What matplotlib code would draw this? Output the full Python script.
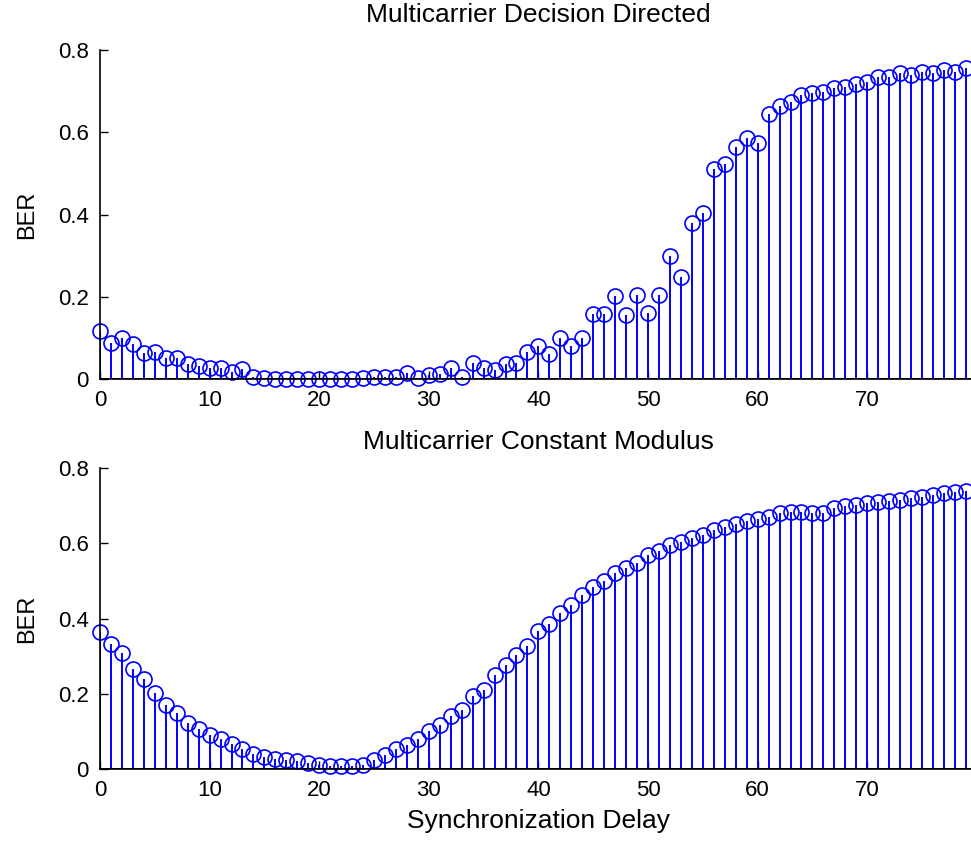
import numpy as np
import matplotlib
matplotlib.use("Agg")
import matplotlib.pyplot as plt

# synchronization delay (samples)
delay = np.arange(80)

ber_decision_directed = [
    0.118, 0.088, 0.100, 0.085, 0.064, 0.065, 0.052, 0.052, 0.036, 0.031,
    0.028, 0.028, 0.016, 0.025, 0.006, 0.003, 0.000, 0.000, 0.000, 0.000,
    0.000, 0.000, 0.000, 0.000, 0.002, 0.005, 0.006, 0.006, 0.014, 0.002,
    0.010, 0.012, 0.026, 0.006, 0.038, 0.026, 0.022, 0.036, 0.038, 0.066,
    0.081, 0.061, 0.100, 0.081, 0.100, 0.158, 0.158, 0.203, 0.156, 0.205,
    0.160, 0.205, 0.300, 0.248, 0.380, 0.405, 0.512, 0.524, 0.564, 0.586,
    0.575, 0.646, 0.664, 0.675, 0.691, 0.695, 0.699, 0.707, 0.711, 0.719,
    0.723, 0.736, 0.736, 0.744, 0.740, 0.748, 0.744, 0.752, 0.748, 0.756,
]

ber_constant_modulus = [
    0.363, 0.333, 0.308, 0.266, 0.240, 0.201, 0.171, 0.150, 0.123, 0.107,
    0.090, 0.080, 0.066, 0.052, 0.040, 0.032, 0.027, 0.024, 0.020, 0.016,
    0.010, 0.008, 0.008, 0.008, 0.010, 0.024, 0.038, 0.052, 0.063, 0.080,
    0.102, 0.118, 0.142, 0.158, 0.193, 0.211, 0.251, 0.277, 0.304, 0.326,
    0.366, 0.386, 0.415, 0.437, 0.463, 0.485, 0.499, 0.521, 0.534, 0.547,
    0.568, 0.580, 0.596, 0.603, 0.613, 0.622, 0.636, 0.644, 0.651, 0.658,
    0.664, 0.671, 0.680, 0.684, 0.682, 0.680, 0.680, 0.695, 0.698, 0.702,
    0.707, 0.711, 0.713, 0.715, 0.720, 0.724, 0.729, 0.733, 0.737, 0.739,
]

titles = ["Multicarrier Decision Directed", "Multicarrier Constant Modulus"]
x_ticks = [0, 10, 20, 30, 40, 50, 60, 70]
y_ticks = [0, 0.2, 0.4, 0.6, 0.8]
y_tick_labels = ["0", "0.2", "0.4", "0.6", "0.8"]

plt.rcParams["font.family"] = ["Liberation Sans", "DejaVu Sans"]


def stem_panel(ax, values, title, title_pad):
    markers, stems, base = ax.stem(delay, values, linefmt="-", markerfmt="o", basefmt=" ")
    stems.set_color("#0000ff")
    stems.set_linewidth(1.4)
    markers.set_markerfacecolor("none")
    markers.set_markeredgecolor("#0000ff")
    markers.set_markersize(10.8)
    markers.set_markeredgewidth(1.2)
    markers.set_clip_on(False)
    ax.axhline(0, color="black", linewidth=1.4, zorder=1)

    ax.set_xlim(0, 80)
    ax.set_ylim(0, 0.8)
    ax.set_xticks(x_ticks)
    ax.set_yticks(y_ticks)
    ax.set_yticklabels(y_tick_labels)
    ax.tick_params(direction="in", length=6, width=1, labelsize=16, pad=8)
    for side in ("top", "right"):
        ax.spines[side].set_visible(False)
    for side in ("left", "bottom"):
        ax.spines[side].set_linewidth(1.2)
    ax.set_title(title, fontsize=19, pad=title_pad)
    ax.set_ylabel("BER", fontsize=17, labelpad=14)


fig = plt.figure(figsize=(9.71, 8.43), dpi=100)
ax_top = fig.add_axes([0.103, 0.5504, 0.903, 0.390])
ax_bot = fig.add_axes([0.103, 0.0878, 0.903, 0.357])

stem_panel(ax_top, ber_decision_directed, titles[0], 20)
stem_panel(ax_bot, ber_constant_modulus, titles[1], 14)
ax_bot.set_xlabel("Synchronization Delay", fontsize=19, labelpad=6)

fig.savefig("out.png", dpi=100)
plt.close(fig)
